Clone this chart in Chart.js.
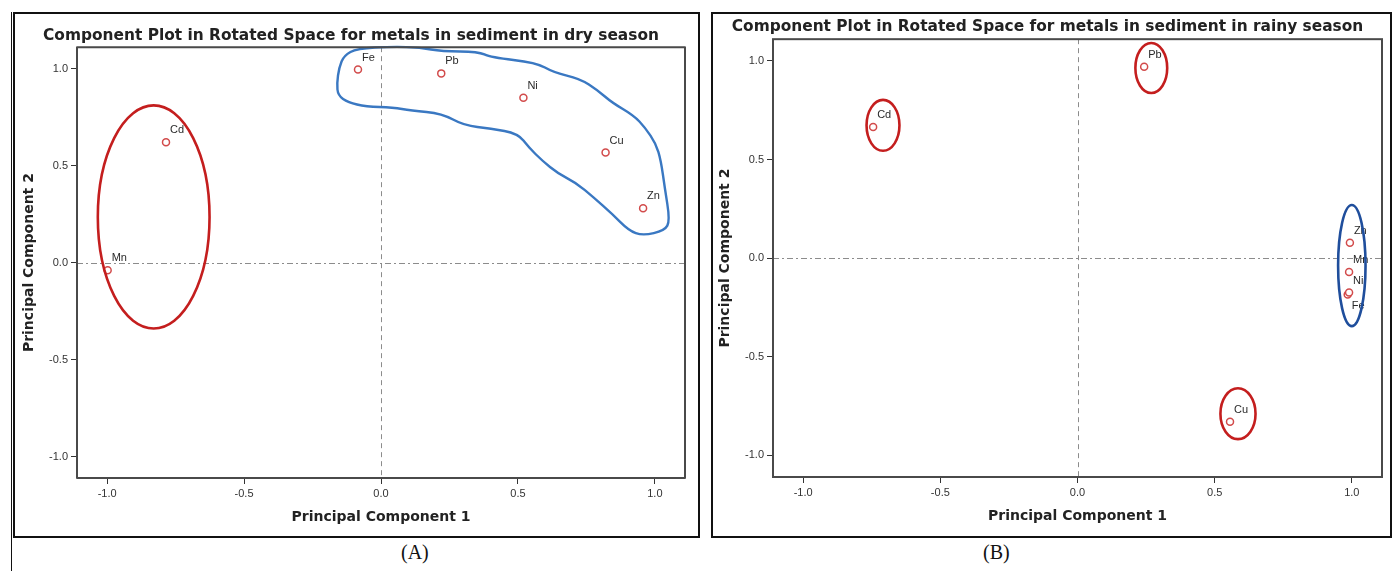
<!DOCTYPE html>
<html>
<head>
<meta charset="utf-8">
<script src="https://cdn.jsdelivr.net/npm/chart.js@4.4.0/dist/chart.umd.min.js"></script>
<style>
    body { margin: 0; background: #fff; width: 1392px; height: 571px; position: relative; overflow: hidden; font-family: 'Liberation Sans', Arial, sans-serif; }
    .line { position: absolute; background: #111; }
    .panel { position: absolute; border: 2px solid #111; box-sizing: border-box; }
    .chart { position: absolute; }
    .caption { position: absolute; top: 541px; font-family: 'Liberation Serif', 'Times New Roman', serif; font-size: 20px; color: #111; }
</style>
</head>
<body>
<div class="line" style="left:11px; top:12px; width:1px; height:559px;"></div>
<div class="panel" style="left:13px; top:12px; width:687px; height:526px;"></div>
<div class="panel" style="left:711px; top:12px; width:681px; height:526px;"></div>
<div class="chart" style="left:15px; top:14px;"><canvas id="chart-dry" width="683" height="522"></canvas></div>
<div class="chart" style="left:713px; top:14px;"><canvas id="chart-rainy" width="676" height="522"></canvas></div>
<div class="caption" style="left:401px;">(A)</div>
<div class="caption" style="left:983px;">(B)</div>

<script>
// component loadings
const dryMetals = ['Cd', 'Cu', 'Fe', 'Mn', 'Ni', 'Pb', 'Zn'];
const dryPC1 = [-0.785, 0.82, -0.084, -0.998, 0.52, 0.22, 0.957];
const dryPC2 = [0.62, 0.567, 0.995, -0.04, 0.85, 0.975, 0.28];

const rainyMetals = ['Cd', 'Cu', 'Fe', 'Mn', 'Ni', 'Pb', 'Zn'];
const rainyPC1 = [-0.745, 0.556, 0.985, 0.99, 0.99, 0.243, 0.993];
const rainyPC2 = [0.665, -0.83, -0.185, -0.07, -0.175, 0.97, 0.078];

const tickValues = [-1.0, -0.5, 0.0, 0.5, 1.0];
const axisMin = -1.11;
const axisMax = 1.11;

// hand-drawn groupings, in component space: [cx, cy, rx, ry]
const dryEllipses = [[-0.83, 0.235, 0.204, 0.575]];
const dryBlob = [
    [-0.153, 1.005], [-0.135, 1.067], [-0.088, 1.103], [0.044, 1.113], [0.142, 1.108],
    [0.223, 1.088], [0.354, 1.088], [0.401, 1.057], [0.566, 1.031], [0.631, 0.979],
    [0.726, 0.948], [0.792, 0.887], [0.843, 0.825], [0.923, 0.758], [0.964, 0.696],
    [1.004, 0.613], [1.022, 0.526], [1.036, 0.387], [1.055, 0.216], [1.036, 0.165],
    [0.956, 0.139], [0.905, 0.165], [0.843, 0.253], [0.777, 0.335], [0.712, 0.412],
    [0.646, 0.459], [0.588, 0.526], [0.540, 0.593], [0.5, 0.665], [0.401, 0.691],
    [0.303, 0.706], [0.223, 0.768], [0.109, 0.784], [0.044, 0.799], [-0.055, 0.804],
    [-0.120, 0.825], [-0.157, 0.861], [-0.161, 0.923]
];
const rainyRedEllipses = [[-0.709, 0.673, 0.06, 0.129], [0.269, 0.964, 0.058, 0.127], [0.585, -0.789, 0.064, 0.129]];
const rainyBlueEllipses = [[1.0, -0.038, 0.05, 0.307]];

const FONT = "'Liberation Sans', Arial, sans-serif";
const TITLE_FONT = "'DejaVu Sans', 'Liberation Sans', sans-serif";

function toPoints(xs, ys) {
    return xs.map((x, i) => ({ x: x, y: ys[i] }));
}

const groupingPlugin = {
    id: 'grouping',
    beforeDatasetsDraw(chart) {
        const { ctx, chartArea: a, scales: { x, y } } = chart;
        ctx.save();
        ctx.strokeStyle = '#8c8c8c';
        ctx.lineWidth = 1;
        ctx.setLineDash([6, 3, 2, 3]);
        const y0 = Math.round(y.getPixelForValue(0)) + 0.5;
        ctx.beginPath(); ctx.moveTo(a.left, y0); ctx.lineTo(a.right, y0); ctx.stroke();
        ctx.setLineDash([5, 4]);
        const x0 = Math.round(x.getPixelForValue(0)) + 0.5;
        ctx.beginPath(); ctx.moveTo(x0, a.top); ctx.lineTo(x0, a.bottom); ctx.stroke();
        ctx.restore();
    },
    afterDatasetsDraw(chart, args, opts) {
        const { ctx, chartArea: a, scales: { x, y } } = chart;
        ctx.save();

        // labels next to each point
        const ds = chart.data.datasets[0];
        ctx.font = '11px ' + FONT;
        ctx.fillStyle = '#2a2a2a';
        ctx.textAlign = 'left';
        ctx.textBaseline = 'middle';
        ds.data.forEach((p, i) => {
            const px = x.getPixelForValue(p.x);
            const py = y.getPixelForValue(p.y);
            const name = opts.names[i];
            const below = (opts.below || []).includes(name);
            ctx.fillText(name, px + 4, below ? py + 11 : py - 12);
        });

        const drawEllipse = (e, color) => {
            const cx = x.getPixelForValue(e[0]);
            const cy = y.getPixelForValue(e[1]);
            const rx = Math.abs(x.getPixelForValue(e[0] + e[2]) - cx);
            const ry = Math.abs(y.getPixelForValue(e[1] + e[3]) - cy);
            ctx.strokeStyle = color;
            ctx.lineWidth = 2.6;
            ctx.beginPath();
            ctx.ellipse(cx, cy, rx, ry, 0, 0, Math.PI * 2);
            ctx.stroke();
        };
        (opts.red || []).forEach(e => drawEllipse(e, '#c41e1e'));
        (opts.blue || []).forEach(e => drawEllipse(e, '#1f4e9c'));

        if (opts.blob) {
            const pts = opts.blob.map(p => [x.getPixelForValue(p[0]), y.getPixelForValue(p[1])]);
            const n = pts.length;
            ctx.strokeStyle = '#3a78c2';
            ctx.lineWidth = 2.4;
            ctx.lineJoin = 'round';
            ctx.beginPath();
            const mid = (p, q) => [(p[0] + q[0]) / 2, (p[1] + q[1]) / 2];
            let m = mid(pts[n - 1], pts[0]);
            ctx.moveTo(m[0], m[1]);
            for (let i = 0; i < n; i++) {
                const m2 = mid(pts[i], pts[(i + 1) % n]);
                ctx.quadraticCurveTo(pts[i][0], pts[i][1], m2[0], m2[1]);
            }
            ctx.closePath();
            ctx.stroke();
        }

        // plot frame
        ctx.strokeStyle = '#4a4a4a';
        ctx.lineWidth = 2;
        ctx.setLineDash([]);
        ctx.strokeRect(a.left, a.top, a.right - a.left, a.bottom - a.top);
        ctx.restore();
    }
};

function makeScale(title, titlePad, fitKey, fitSize) {
    return {
        type: 'linear',
        min: axisMin,
        max: axisMax,
        afterBuildTicks: s => { s.ticks = tickValues.map(v => ({ value: v })); },
        afterFit: s => { s[fitKey] = fitSize; },
        ticks: {
            font: { size: 11, family: FONT },
            color: '#333',
            padding: 3,
            callback: v => v.toFixed(1)
        },
        grid: { drawOnChartArea: false, drawTicks: true, tickLength: 6, color: '#333', lineWidth: 1 },
        border: { display: false },
        title: {
            display: true,
            text: title,
            color: '#222',
            font: { size: 14, weight: 'bold', family: TITLE_FONT },
            padding: titlePad
        }
    };
}

function makeChart(id, cfg) {
    new Chart(document.getElementById(id).getContext('2d'), {
        type: 'scatter',
        data: {
            datasets: [{
                data: toPoints(cfg.pc1, cfg.pc2),
                pointStyle: 'circle',
                pointRadius: 3.5,
                pointHoverRadius: 3.5,
                borderWidth: 1.5,
                borderColor: '#d24b4b',
                backgroundColor: '#ffffff'
            }]
        },
        options: {
            responsive: false,
            animation: false,
            devicePixelRatio: 1,
            layout: { padding: cfg.padding },
            plugins: {
                legend: { display: false },
                tooltip: { enabled: false },
                title: {
                    display: true,
                    text: cfg.title,
                    color: '#222',
                    font: { size: 15.4, weight: 'bold', family: TITLE_FONT },
                    padding: cfg.titlePad
                },
                grouping: {
                    names: cfg.names,
                    below: cfg.below,
                    red: cfg.red,
                    blue: cfg.blue,
                    blob: cfg.blob
                }
            },
            scales: {
                x: makeScale('Principal Component 1', { top: 9, bottom: 4 }, 'height', 52),
                y: makeScale('Principal Component 2', { top: 4, bottom: 4 }, 'width', 60)
            }
        },
        plugins: [groupingPlugin]
    });
}

makeChart('chart-dry', {
    title: 'Component Plot in Rotated Space for metals in sediment in dry season',
    pc1: dryPC1, pc2: dryPC2, names: dryMetals,
    red: dryEllipses, blob: dryBlob,
    padding: { left: 2, right: 13, top: 0, bottom: 6 },
    titlePad: { top: 12.5, bottom: 2.2 }
});

makeChart('chart-rainy', {
    title: 'Component Plot in Rotated Space for metals in sediment in rainy season',
    pc1: rainyPC1, pc2: rainyPC2, names: rainyMetals, below: ['Fe'],
    red: rainyRedEllipses, blue: rainyBlueEllipses,
    padding: { left: 0, right: 7, top: 0, bottom: 7 },
    titlePad: { top: 3.5, bottom: 3.2 }
});
</script>
</body>
</html>
